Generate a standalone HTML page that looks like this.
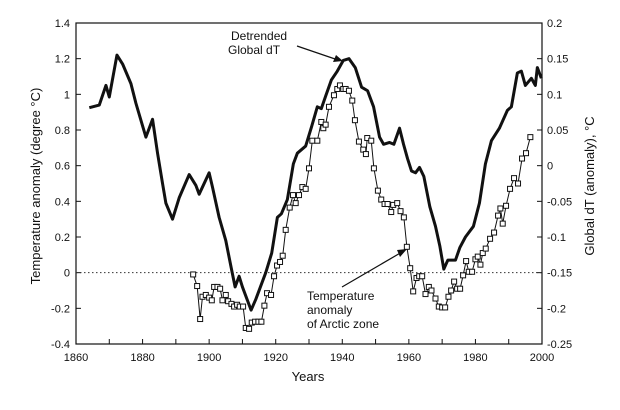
<!DOCTYPE html>
<html><head><meta charset="utf-8"><style>
body{margin:0;background:#fff;}
svg text{font-family:"Liberation Sans",sans-serif;fill:#111;}
</style></head><body>
<svg id="chart" width="620" height="405" viewBox="0 0 620 405" xmlns="http://www.w3.org/2000/svg">
<g id="axes"></g><g id="marks"></g>
<text x="231" y="40" font-size="12">Detrended</text>
<text x="228" y="54" font-size="12">Global dT</text>
<line x1="297" y1="46" x2="338" y2="60" stroke="#111" stroke-width="1.2"/>
<polygon points="343,61 333,62 336,55" fill="#111"/>
<text x="307" y="300" font-size="12">Temperature</text>
<text x="307" y="314" font-size="12">anomaly</text>
<text x="307" y="328" font-size="12">of Arctic zone</text>
<line x1="342" y1="287" x2="402" y2="252" stroke="#111" stroke-width="1.2"/>
<polygon points="407,249 400,257 397,250" fill="#111"/>
<text x="308" y="381" font-size="13" text-anchor="middle">Years</text>
<text transform="translate(40,186) rotate(-90)" font-size="13" text-anchor="middle">Temperature anomaly (degree °C)</text>
<text transform="translate(594,186) rotate(-90)" font-size="13" text-anchor="middle">Global dT (anomaly), °C</text>
</svg>
<script>
const xTicks=[1860,1880,1900,1920,1940,1960,1980,2000];
const yTicksLeft=[1.4,1.2,1,0.8,0.6,0.4,0.2,0,-0.2,-0.4];
const yTicksRight=[0.2,0.15,0.1,0.05,0,-0.05,-0.1,-0.15,-0.2,-0.25];
const globalYears=[1864,1867,1869,1870,1872.3,1874,1876.5,1878,1881,1883,1884.5,1886,1887,1889,1891,1894,1896,1897,1898,1900,1901,1903,1905,1906.6,1907.8,1909,1910,1912.6,1914,1917,1918.8,1920.5,1921.7,1923.5,1925.3,1926.5,1929,1930.8,1932.5,1933.7,1935,1936.7,1938.5,1940.3,1942,1943.9,1945.8,1947.6,1949.4,1951.2,1952.4,1954.2,1955.5,1957.2,1958.4,1959.6,1960.8,1962,1963.2,1964.5,1966.3,1968,1969.3,1970.5,1971.7,1974,1975.3,1977,1979.4,1981.2,1983,1984.8,1987.2,1989.6,1990.8,1992.6,1993.8,1995,1996.8,1998,1998.6,1999.8];
const globalValues=[0.925,0.94,1.05,0.985,1.22,1.17,1.06,0.95,0.76,0.86,0.67,0.5,0.39,0.30,0.42,0.55,0.49,0.44,0.48,0.56,0.48,0.31,0.18,0.03,-0.08,-0.02,-0.08,-0.21,-0.15,0.0,0.11,0.31,0.33,0.41,0.61,0.67,0.71,0.82,0.93,0.92,0.99,1.08,1.13,1.19,1.2,1.15,1.04,1.02,0.93,0.76,0.72,0.73,0.72,0.81,0.72,0.64,0.57,0.56,0.59,0.54,0.37,0.26,0.15,0.02,0.07,0.07,0.14,0.2,0.26,0.39,0.61,0.74,0.81,0.91,0.93,1.12,1.13,1.05,1.09,1.05,1.15,1.09];
const arcticYears=[1895.2,1896.4,1897.3,1898,1899,1900,1900.8,1901.5,1902.5,1903.3,1904,1905,1905.7,1906.7,1907.5,1908.4,1909.2,1910.2,1911,1912,1912.8,1913.8,1914.8,1915.7,1916.6,1917.4,1918.6,1919.5,1920.4,1921.3,1922.1,1923,1924.2,1925.2,1926,1927,1928,1929,1930,1931,1932.5,1933.7,1934.3,1935,1936,1937.5,1938.5,1939.3,1940.3,1941,1942,1943,1943.8,1945,1946.3,1947.1,1947.5,1948.7,1949.5,1950.7,1951.7,1952.7,1953.6,1954.7,1955.3,1956.5,1957.5,1958.5,1959.4,1960.4,1961.3,1962.3,1963.1,1964,1965,1966,1966.8,1968,1969,1970,1970.9,1971.9,1972.7,1973.6,1974.5,1975.4,1976.3,1977.2,1978,1979,1980,1980.7,1981.5,1982.2,1983.1,1984.4,1985.6,1986.8,1987.5,1988.2,1989.2,1990.4,1991.6,1992.8,1994,1995.2,1996.5];
const arcticValues=[-0.01,-0.075,-0.26,-0.135,-0.125,-0.14,-0.155,-0.08,-0.08,-0.09,-0.155,-0.125,-0.16,-0.175,-0.19,-0.18,-0.19,-0.19,-0.31,-0.315,-0.28,-0.275,-0.275,-0.275,-0.185,-0.115,-0.125,-0.02,0.04,0.06,0.095,0.24,0.365,0.435,0.39,0.435,0.48,0.47,0.585,0.74,0.74,0.845,0.81,0.83,0.93,0.995,1.03,1.05,1.03,1.03,1.02,0.965,0.855,0.735,0.69,0.665,0.755,0.74,0.585,0.46,0.41,0.385,0.385,0.34,0.38,0.39,0.345,0.31,0.145,0.025,-0.105,-0.03,-0.02,-0.02,-0.12,-0.08,-0.1,-0.145,-0.19,-0.195,-0.195,-0.135,-0.1,-0.05,-0.09,-0.09,-0.015,0.065,0.005,0.005,0.075,0.09,0.045,0.11,0.135,0.19,0.225,0.32,0.36,0.275,0.375,0.47,0.53,0.5,0.64,0.67,0.76];
const X0=76,X1=542,Y0=23,Y1=344;
const sx=y=>X0+(y-1860)/140*(X1-X0);
const sy=v=>Y0+(1.4-v)/1.8*(Y1-Y0);
const syR=v=>Y0+(0.2-v)/0.45*(Y1-Y0);
const NS='http://www.w3.org/2000/svg';
const axes=document.getElementById('axes'),marks=document.getElementById('marks');
function mk(tag,attrs,parent){const e=document.createElementNS(NS,tag);for(const k in attrs)e.setAttribute(k,attrs[k]);parent.appendChild(e);return e;}
let e=mk('rect',{x:X0,y:Y0,width:X1-X0,height:Y1-Y0,fill:'none',stroke:'#111','stroke-width':1.2},axes);


for(let yr=1860;yr<=2000;yr+=10){
 e=mk('line',{x1:sx(yr),x2:sx(yr),y1:Y1,y2:Y1-5,stroke:'#111'},axes);
 
 
}
xTicks.forEach(t=>{
 e=mk('text',{x:sx(t),y:Y1+17,'font-size':11,'text-anchor':'middle'},axes);e.textContent=t;
 
 
});
yTicksLeft.forEach(t=>{
 e=mk('line',{x1:X0,x2:X0+5,y1:sy(t),y2:sy(t),stroke:'#111'},axes);
 
 
 e=mk('text',{x:X0-6,y:sy(t)+4,'font-size':11,'text-anchor':'end'},axes);e.textContent=t;
 
 
});
yTicksRight.forEach(t=>{
 e=mk('line',{x1:X1,x2:X1-5,y1:syR(t),y2:syR(t),stroke:'#111'},axes);
 
 
 e=mk('text',{x:X1+5,y:syR(t)+4,'font-size':11},axes);e.textContent=t;
 
 
});
e=mk('line',{x1:X0,x2:X1,y1:sy(0),y2:sy(0),stroke:'#333','stroke-dasharray':'1.5,2.5'},axes);


e=mk('polyline',{points:globalYears.map((y,i)=>sx(y)+','+sy(globalValues[i])).join(' '),fill:'none',stroke:'#111','stroke-width':3,'stroke-linejoin':'round'},marks);


e=mk('polyline',{points:arcticYears.map((y,i)=>sx(y)+','+sy(arcticValues[i])).join(' '),fill:'none',stroke:'#111','stroke-width':1},marks);


arcticYears.forEach((y,i)=>{
 e=mk('rect',{x:sx(y)-2.5,y:sy(arcticValues[i])-2.5,width:5,height:5,fill:'#fff',stroke:'#111','stroke-width':1},marks);
 
 
});
</script>
</body></html>
